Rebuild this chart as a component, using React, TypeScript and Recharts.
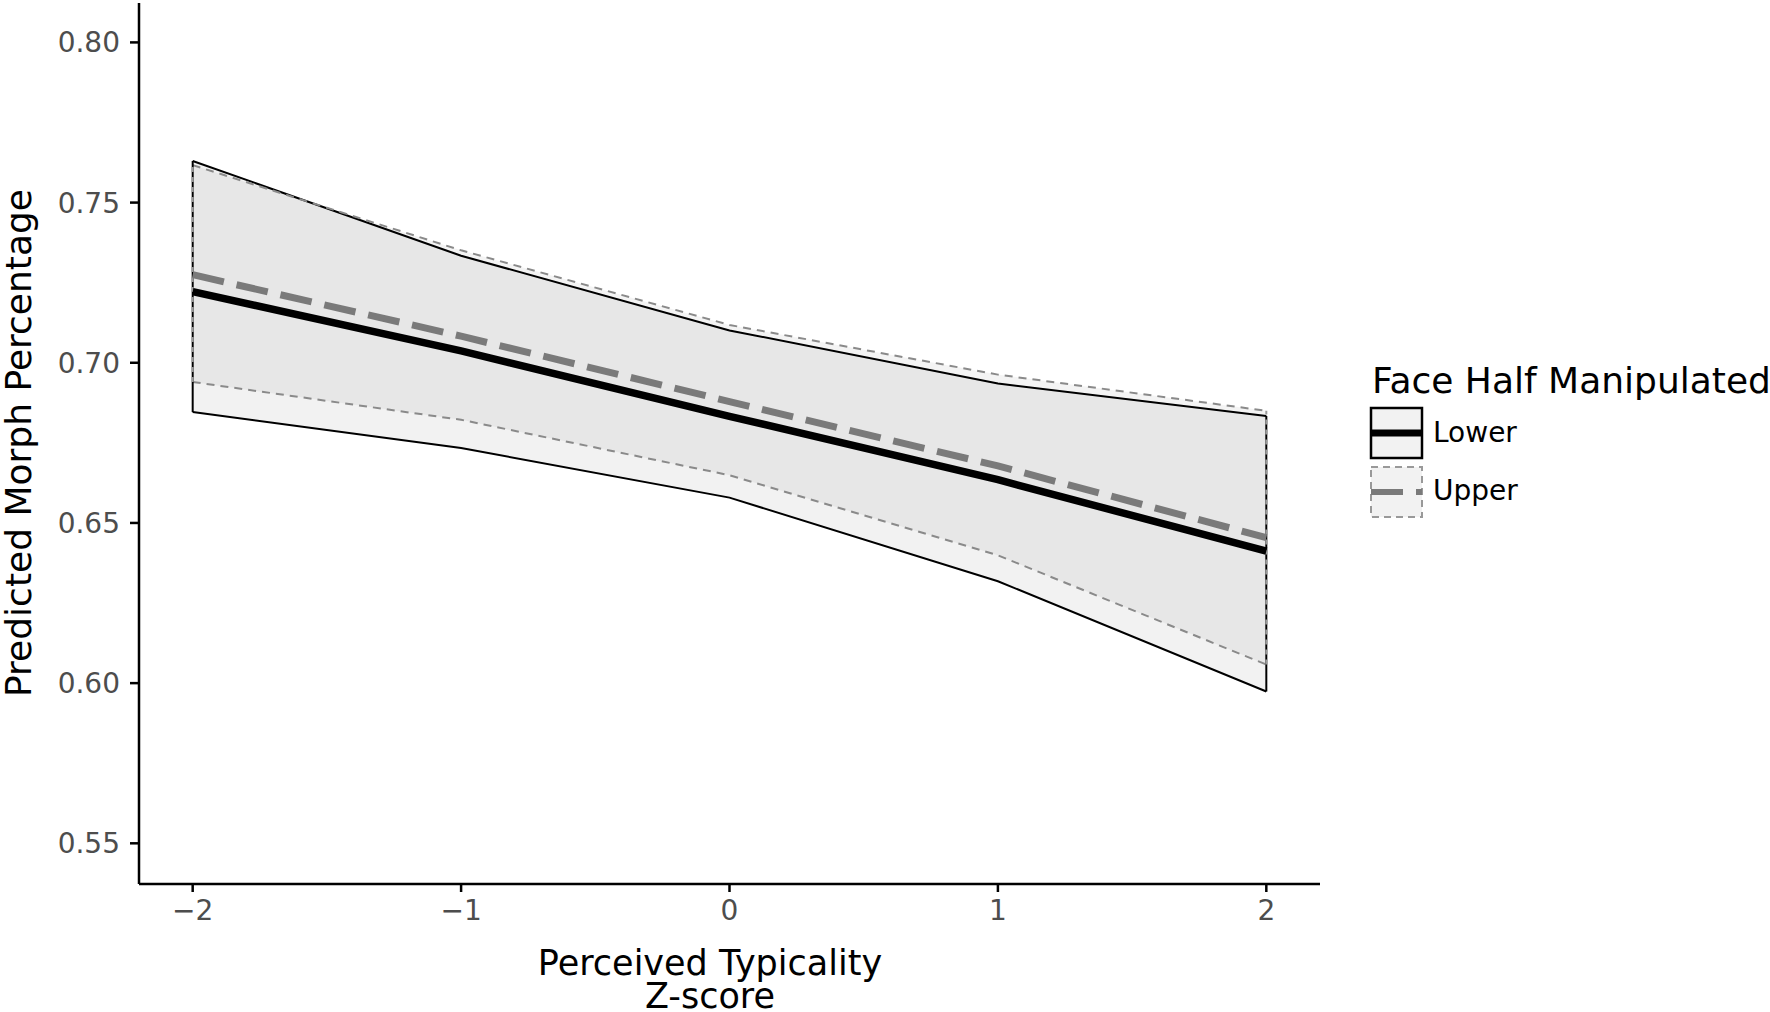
import {
  ComposedChart,
  Area,
  Line,
  XAxis,
  YAxis,
  ReferenceLine
} from "recharts";

// values
const typicality = [-2, -1, 0, 1, 2];

const lowerFit = [0.7222, 0.7037, 0.6833, 0.6635, 0.6412];
const lowerCiLow = [0.6846, 0.6734, 0.6579, 0.6318, 0.5974];
const lowerCiHigh = [0.763, 0.7334, 0.7101, 0.6935, 0.6834];

const upperFit = [0.7275, 0.7083, 0.6879, 0.6678, 0.6454];
const upperCiLow = [0.694, 0.6822, 0.6649, 0.6399, 0.6058];
const upperCiHigh = [0.7617, 0.7351, 0.7118, 0.6963, 0.685];

const xTicks = [-2, -1, 0, 1, 2];
const yTicks = [0.55, 0.6, 0.65, 0.7, 0.75, 0.8];

const seriesNames = ["Lower", "Upper"];
const legendTitle = "Face Half Manipulated";
const xTitle = ["Perceived Typicality", "Z-score"];
const yTitle = "Predicted Morph Percentage";

const FONT = "'DejaVu Sans', sans-serif";

const chartData = typicality.map((x, i) => ({
  x,
  lowerFit: lowerFit[i],
  upperFit: upperFit[i],
  lowerBand: [lowerCiLow[i], lowerCiHigh[i]],
  upperBand: [upperCiLow[i], upperCiHigh[i]]
}));

const first = 0;
const last = typicality.length - 1;

const fmtX = (v: number) => (v < 0 ? `\u2212${Math.abs(v)}` : `${v}`);

export default function App() {
  return (
    <div style={{ position: "fixed", left: 0, top: 0, width: 1770, height: 1012, background: "#fff", overflow: "hidden" }}>
      <ComposedChart
        width={1770}
        height={1012}
        data={chartData}
        margin={{ top: 3, right: 450, bottom: 0, left: 0 }}
      >
        <XAxis
          type="number"
          dataKey="x"
          domain={[-2.2, 2.2]}
          ticks={xTicks}
          allowDataOverflow
          height={128}
          tickFormatter={fmtX}
          axisLine={{ stroke: "#000", strokeWidth: 2.5 }}
          tickLine={{ stroke: "#000", strokeWidth: 2.5 }}
          tickSize={8}
          tickMargin={8}
          tick={{ fill: "#4d4d4d", fontSize: 28, fontFamily: FONT }}
        />
        <YAxis
          type="number"
          domain={[0.5373, 0.8123]}
          ticks={yTicks}
          allowDataOverflow
          width={139}
          tickFormatter={(v: number) => v.toFixed(2)}
          axisLine={{ stroke: "#000", strokeWidth: 2.5 }}
          tickLine={{ stroke: "#000", strokeWidth: 2.5 }}
          tickSize={9}
          tickMargin={10}
          tick={{ fill: "#4d4d4d", fontSize: 28, fontFamily: FONT }}
        />

        {/* confidence ribbons */}
        <Area
          type="linear"
          dataKey="lowerBand"
          fill="#000"
          fillOpacity={0.05}
          stroke="#000"
          strokeWidth={2}
          dot={false}
          activeDot={false}
          isAnimationActive={false}
        />
        <Area
          type="linear"
          dataKey="upperBand"
          fill="#000"
          fillOpacity={0.045}
          stroke="#8a8a8a"
          strokeWidth={2}
          strokeDasharray="8 6"
          dot={false}
          activeDot={false}
          isAnimationActive={false}
        />

        {/* ribbon side edges */}
        <ReferenceLine
          segment={[{ x: typicality[first], y: lowerCiLow[first] }, { x: typicality[first], y: lowerCiHigh[first] }]}
          stroke="#000"
          strokeWidth={2}
        />
        <ReferenceLine
          segment={[{ x: typicality[last], y: lowerCiLow[last] }, { x: typicality[last], y: lowerCiHigh[last] }]}
          stroke="#000"
          strokeWidth={2}
        />
        <ReferenceLine
          segment={[{ x: typicality[first], y: upperCiLow[first] }, { x: typicality[first], y: upperCiHigh[first] }]}
          stroke="#9a9a9a"
          strokeWidth={2}
          strokeDasharray="5 5"
        />
        <ReferenceLine
          segment={[{ x: typicality[last], y: upperCiLow[last] }, { x: typicality[last], y: upperCiHigh[last] }]}
          stroke="#9a9a9a"
          strokeWidth={2}
          strokeDasharray="5 5"
        />

        {/* fitted lines */}
        <Line
          type="linear"
          dataKey="lowerFit"
          stroke="#000"
          strokeWidth={7.5}
          dot={false}
          activeDot={false}
          isAnimationActive={false}
        />
        <Line
          type="linear"
          dataKey="upperFit"
          stroke="#7a7a7a"
          strokeWidth={7}
          strokeDasharray="32 13"
          dot={false}
          activeDot={false}
          isAnimationActive={false}
        />
      </ComposedChart>

      {/* titles and legend */}
      <svg
        width={1770}
        height={1012}
        style={{ position: "absolute", left: 0, top: 0, pointerEvents: "none" }}
        fontFamily={FONT}
      >
        <text x={710} y={975} textAnchor="middle" fontSize={35} fill="#000">
          {xTitle[0]}
        </text>
        <text x={710} y={1008} textAnchor="middle" fontSize={35} fill="#000">
          {xTitle[1]}
        </text>
        <text
          x={31}
          y={443}
          transform="rotate(-90, 31, 443)"
          textAnchor="middle"
          fontSize={36}
          fill="#000"
        >
          {yTitle}
        </text>

        <text x={1372} y={393} fontSize={36} fill="#000">
          {legendTitle}
        </text>

        {/* Lower key */}
        <rect x={1371} y={408} width={51} height={50} fill="#f2f2f2" stroke="#000" strokeWidth={2.5} />
        <line x1={1371} y1={433} x2={1422} y2={433} stroke="#000" strokeWidth={7} />
        <text x={1433} y={442} fontSize={28} fill="#000">
          {seriesNames[0]}
        </text>

        {/* Upper key */}
        <rect x={1371} y={467} width={51} height={50} fill="#f2f2f2" stroke="#999" strokeWidth={2} strokeDasharray="7 5" />
        <line x1={1371} y1={492} x2={1422} y2={492} stroke="#7a7a7a" strokeWidth={6} strokeDasharray="32 13" />
        <text x={1433} y={500} fontSize={28} fill="#000">
          {seriesNames[1]}
        </text>
      </svg>
    </div>
  );
}
